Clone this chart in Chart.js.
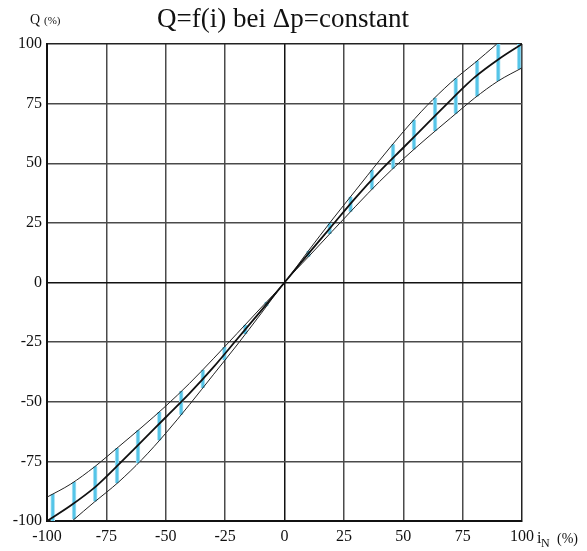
<!DOCTYPE html>
<html>
<head>
<meta charset="utf-8">
<script src="https://cdn.jsdelivr.net/npm/chart.js@4"></script>
<style>
  html, body { margin: 0; padding: 0; background: #fff; }
  #wrap { width: 587px; height: 551px; }
</style>
</head>
<body>
<div id="wrap"><canvas id="flowChart" width="587" height="551"></canvas></div>
<script>
// Axis ticks (%)
const tickValues = [-100, -75, -50, -25, 0, 25, 50, 75, 100];

// Nominal characteristic Q = f(i)
const midI = [-100, -90, -80, -75, -70, -60, -50, -40, -30, -20, -10, 0, 10, 20, 30, 40, 50, 60, 70, 75, 80, 90, 100];
const midQ = [-100, -93.5, -86, -81.4, -76.5, -66.5, -56.5, -46.5, -35.6, -23.8, -12, 0, 12, 23.8, 35.6, 46.5, 56.5, 66.5, 76.5, 81.4, 86, 93.5, 100];

// Upper tolerance curve
const upperI = [-100, -90, -80, -75, -70, -60, -50, -40, -30, -20, -10, 0, 10, 20, 30, 40, 50, 60, 70, 75, 80, 89.4];
const upperQ = [-90, -84.5, -77.3, -73.2, -69, -60.6, -51.8, -42.3, -32, -21.4, -10.7, 0, 13.2, 26.2, 38.7, 51.2, 63.2, 74.2, 83.8, 88, 92, 100];

// Lower tolerance curve
const lowerI = [-89.4, -80, -75, -70, -60, -50, -40, -30, -20, -10, 0, 10, 20, 30, 40, 50, 60, 70, 75, 80, 90, 100];
const lowerQ = [-100, -92, -88, -83.8, -74.2, -63.2, -51.2, -38.7, -26.2, -13.2, 0, 10.7, 21.4, 32, 42.3, 51.8, 60.6, 69, 73.2, 77.3, 84.5, 90];

// Hatching of the tolerance band (cyan strokes)
const segI = [-97.6, -88.6, -79.7, -70.5, -61.7, -52.7, -43.5, -34.4, -25.3, -16.5, -7.6, 10.1, 19, 27.8, 36.8, 45.7, 54.5, 63.4, 72.1, 81.1, 90, 98.8];
const segLow = [-100, -99.3, -91.8, -84.2, -75.8, -66.2, -55.4, -44.2, -32.6, -21.6, -10, 10.8, 20.3, 29.7, 39, 47.7, 55.8, 63.5, 70.8, 78, 84.5, 89.4];
const segHigh = [-88.7, -83.6, -77, -69.4, -62, -54.3, -45.5, -36.6, -27, -17.7, -8.1, 13.3, 24.9, 36, 47.2, 58, 68.2, 77.5, 85.6, 92.9, 100, 100];

const SERIF = '"Liberation Serif", "Times New Roman", serif';

function toPoints(xs, ys) {
    return xs.map((x, i) => ({ x: x, y: ys[i] }));
}

// Title and axis unit labels
const labelPlugin = {
    id: 'labels',
    afterDraw(chart) {
        const ctx = chart.ctx;
        ctx.save();
        ctx.fillStyle = '#111';
        ctx.textBaseline = 'alphabetic';

        ctx.textAlign = 'center';
        ctx.font = '27px ' + SERIF;
        ctx.fillText('Q=f(i) bei \u0394p=constant', 283, 27);

        ctx.textAlign = 'left';
        ctx.font = '14px ' + SERIF;
        ctx.fillText('Q', 30, 24);
        ctx.font = '11px ' + SERIF;
        ctx.fillText('(%)', 44, 24);

        ctx.font = '16px ' + SERIF;
        ctx.fillText('i', 537, 543);
        ctx.font = '12px ' + SERIF;
        ctx.fillText('N', 541, 547);
        ctx.font = '14px ' + SERIF;
        ctx.fillText('(%)', 557, 543);
        ctx.restore();
    }
};

function gridColor(ctx) {
    const v = ctx.tick ? ctx.tick.value : null;
    if (v === 0) return '#111';
    if (v === 100 || v === -100) return '#222';
    return '#4a4a4a';
}

const chart = new Chart(document.getElementById('flowChart'), {
    type: 'line',
    data: {
        datasets: [
            {
                type: 'line',
                data: toPoints(midI, midQ),
                borderColor: '#111',
                borderWidth: 1.8,
                pointRadius: 0,
                cubicInterpolationMode: 'monotone',
                order: 0
            },
            {
                type: 'line',
                data: toPoints(upperI, upperQ),
                borderColor: '#222',
                borderWidth: 1,
                pointRadius: 0,
                cubicInterpolationMode: 'monotone',
                order: 1
            },
            {
                type: 'line',
                data: toPoints(lowerI, lowerQ),
                borderColor: '#222',
                borderWidth: 1,
                pointRadius: 0,
                cubicInterpolationMode: 'monotone',
                order: 2
            },
            {
                type: 'bar',
                data: segI.map((x, i) => ({ x: x, y: [segLow[i], segHigh[i]] })),
                backgroundColor: '#55c5e8',
                borderColor: '#b2e3f3',
                borderWidth: { left: 1, right: 1, top: 0, bottom: 0 },
                borderSkipped: false,
                barThickness: 4,
                order: 10
            }
        ]
    },
    options: {
        responsive: false,
        animation: false,
        layout: { padding: { left: 0, top: 44, right: 65, bottom: 0 } },
        plugins: {
            legend: { display: false },
            tooltip: { enabled: false },
            title: { display: false }
        },
        scales: {
            x: {
                type: 'linear',
                min: -100,
                max: 100,
                offset: false,
                afterFit(scale) { scale.height = 30; },
                afterBuildTicks(scale) { scale.ticks = tickValues.map(v => ({ value: v })); },
                grid: { offset: false, color: gridColor, lineWidth: 1.5, drawTicks: false },
                border: { display: true, color: '#111', width: 2 },
                ticks: {
                    padding: 6,
                    color: '#111',
                    font: { family: SERIF, size: 16 },
                    maxRotation: 0
                }
            },
            y: {
                type: 'linear',
                min: -100,
                max: 100,
                afterFit(scale) { scale.width = 47; },
                afterBuildTicks(scale) { scale.ticks = tickValues.map(v => ({ value: v })); },
                grid: { color: gridColor, lineWidth: 1.5, drawTicks: false },
                border: { display: true, color: '#111', width: 2 },
                ticks: {
                    padding: 5,
                    color: '#111',
                    font: { family: SERIF, size: 16 }
                }
            }
        }
    },
    plugins: [labelPlugin]
});
</script>
</body>
</html>
